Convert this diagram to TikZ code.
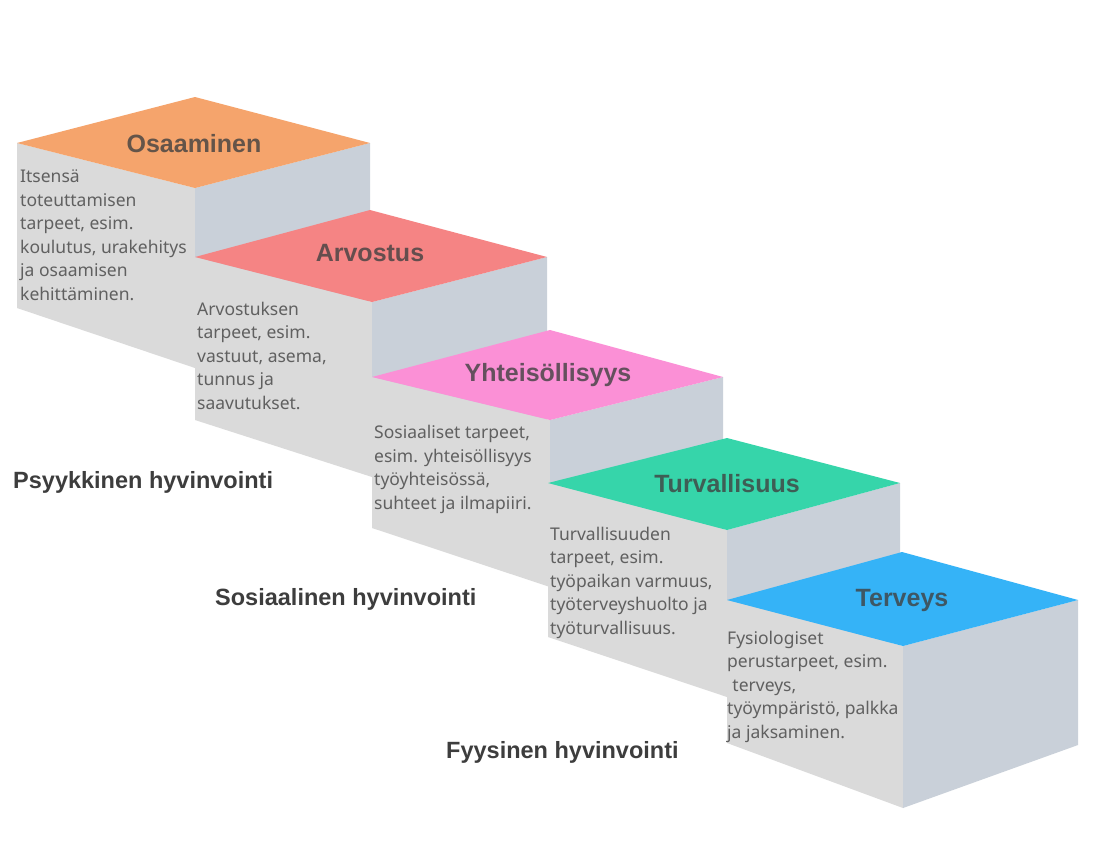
\documentclass[tikz,border=0pt]{standalone}
\usepackage{fontspec}
\setmainfont{Noto Sans}
\newfontfamily\headfont{Liberation Sans}
\usepackage{xcolor}
\usepackage{tikz}
\usetikzlibrary{positioning}

\definecolor{topOsa}{HTML}{F5A46C}
\definecolor{topArv}{HTML}{F58484}
\definecolor{topYht}{HTML}{FB90D6}
\definecolor{topTur}{HTML}{36D5AA}
\definecolor{topTer}{HTML}{35B3F7}
\definecolor{faceL}{HTML}{DADADA}
\definecolor{faceR}{HTML}{C9D0D9}
\definecolor{txtBody}{HTML}{606060}
\definecolor{txtHead}{HTML}{3D3D3D}

\begin{document}
\begin{tikzpicture}[
  x=1pt, y=-1pt,
  leftface/.style={fill=faceL},
  rightface/.style={fill=faceR},
  title/.style={anchor=base, inner sep=0pt,
                font=\headfont\fontsize{25}{28}\selectfont\bfseries},
  body/.style={anchor=base west, inner sep=0pt, align=left, text=txtBody,
               font=\fontsize{17.5}{23.5}\selectfont},
  level/.style={anchor=base west, inner sep=0pt, text=txtHead,
                font=\headfont\fontsize{23.5}{26}\selectfont\bfseries}
]
  \fill[white] (0,0) rectangle (1094,863);
  \useasboundingbox (0,0) rectangle (1094,863);

  %--- Block 1: Osaaminen ---
  \fill[leftface]  (17,143) -- (195,188) -- (195,368) -- (17,308) -- cycle;
  \fill[rightface] (195,188) -- (370,143) -- (370,300) -- (195,368) -- cycle;
  \fill[topOsa]    (17,143) -- (195,97) -- (370,143) -- (195,188) -- cycle;
  \node[title, text=topOsa!25!black!80] (osa) at (194,152) {Osaaminen};
  % body nodes sit on the baseline of their last line
  \node[body] (osatxt) at (20,300)
    {Itsensä\\toteuttamisen\\tarpeet, esim.\\koulutus, urakehitys\\ja osaamisen\\kehittäminen.};

  %--- Block 2: Arvostus ---
  \fill[leftface]  (195,257) -- (372,302) -- (372,477) -- (195,420) -- cycle;
  \fill[rightface] (372,302) -- (547,257) -- (547,420) -- (372,477) -- cycle;
  \fill[topArv]    (195,257) -- (370,210) -- (547,257) -- (372,302) -- cycle;
  \node[title, text=topArv!25!black!80] (arv) at (370,261) {Arvostus};
  \node[body] (arvtxt) at (197,409)
    {Arvostuksen\\tarpeet, esim.\\vastuut, asema,\\tunnus ja\\saavutukset.};

  %--- Block 3: Yhteisöllisyys ---
  \fill[leftface]  (372,377) -- (550,420) -- (550,587) -- (372,528) -- cycle;
  \fill[rightface] (550,420) -- (723,377) -- (723,530) -- (550,587) -- cycle;
  \fill[topYht]    (372,377) -- (550,330) -- (723,377) -- (550,420) -- cycle;
  \node[title, text=topYht!25!black!80] (yht) at (548,381) {Yhteisöllisyys};
  \node[body] (yhttxt) at (374,509)
    {Sosiaaliset tarpeet,\\esim. yhteisöllisyys\\työyhteisössä,\\suhteet ja ilmapiiri.};

  %--- Block 4: Turvallisuus ---
  \fill[leftface]  (548,483) -- (727,530) -- (727,697) -- (548,637) -- cycle;
  \fill[rightface] (727,530) -- (900,483) -- (900,640) -- (727,697) -- cycle;
  \fill[topTur]    (548,483) -- (727,438) -- (900,483) -- (727,530) -- cycle;
  \node[title, text=topTur!25!black!80] (tur) at (727,492) {Turvallisuus};
  \node[body] (turtxt) at (550,634)
    {Turvallisuuden\\tarpeet, esim.\\työpaikan varmuus,\\työterveyshuolto ja\\työturvallisuus.};

  %--- Block 5: Terveys ---
  \fill[leftface]  (727,600) -- (903,646) -- (903,808) -- (727,743) -- cycle;
  \fill[rightface] (903,646) -- (1078,600) -- (1078,745) -- (903,808) -- cycle;
  \fill[topTer]    (727,600) -- (902,552) -- (1078,600) -- (903,646) -- cycle;
  \node[title, text=topTer!25!black!80] (ter) at (902,606) {Terveys};
  \node[body] (tertxt) at (727,738)
    {Fysiologiset\\perustarpeet, esim.\\\hspace{0.3em}terveys,\\työympäristö, palkka\\ja jaksaminen.};

  %--- Levels ---
  \node[level] (psy) at (13,488)  {Psyykkinen hyvinvointi};
  \node[level] (sos) at (215,605) {Sosiaalinen hyvinvointi};
  \node[level] (fyy) at (446,758) {Fyysinen hyvinvointi};

\end{tikzpicture}
\end{document}
